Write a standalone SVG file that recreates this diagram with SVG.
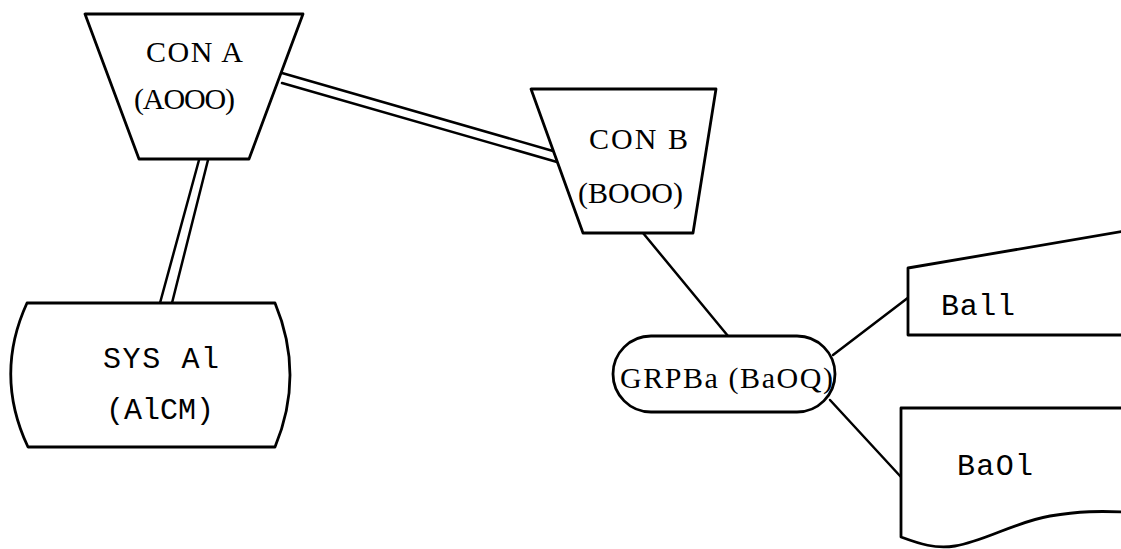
<svg xmlns="http://www.w3.org/2000/svg" width="1121" height="549" viewBox="0 0 1121 549">
<style>
.shape{fill:#fff;stroke:#000;stroke-width:2.8;stroke-linejoin:round}
.edge{fill:none;stroke:#000;stroke-width:2.5;stroke-linecap:round}
.serif{font-family:"Liberation Serif","Times New Roman",serif;font-size:30px;fill:#000}
.mono{font-family:"Liberation Mono","Courier New",monospace;font-size:30px;fill:#000}
</style>
<rect width="1121" height="549" fill="#fff"/>
<g id="connectors">
<line class="edge" x1="282" y1="73" x2="553" y2="151"/>
<line class="edge" x1="282" y1="83" x2="557" y2="162"/>
<line class="edge" x1="199" y1="160" x2="160" y2="303"/>
<line class="edge" x1="208" y1="160" x2="172" y2="303"/>
<line class="edge" x1="643" y1="233" x2="728" y2="336"/>
<line class="edge" x1="833" y1="355" x2="909" y2="297"/>
<line class="edge" x1="830" y1="400" x2="901" y2="477"/>
</g>
<g id="conA">
<polygon class="shape" points="85,14 303,14 249,159 139,159"/>
<text class="serif" x="146" y="62" textLength="97" lengthAdjust="spacing">CON A</text>
<text class="serif" x="134" y="109" textLength="101" lengthAdjust="spacing">(AOOO)</text>
</g>
<g id="conB">
<polygon class="shape" points="531,89 716,89 693,233 583,233"/>
<text class="serif" x="589" y="149" textLength="99" lengthAdjust="spacing">CON B</text>
<text class="serif" x="578" y="203" textLength="105" lengthAdjust="spacing">(BOOO)</text>
</g>
<g id="sysA1">
<path class="shape" d="M27,303 L275,303 Q305,375 275,447 L28,447 Q-6,375 27,303 Z"/>
<text class="mono" x="103" y="368" textLength="116" lengthAdjust="spacing">SYS Al</text>
<text class="mono" x="106" y="419" textLength="108" lengthAdjust="spacing">(AlCM)</text>
</g>
<g id="grpBa">
<rect class="shape" x="613" y="336" width="222" height="76" rx="38" ry="38"/>
<text class="serif" x="620" y="388" textLength="213" lengthAdjust="spacing">GRPBa (BaOQ)</text>
</g>
<g id="ba11">
<path class="shape" d="M1125,231 L908,268 L908,335 L1125,335"/>
<text class="mono" x="941" y="315" textLength="74" lengthAdjust="spacing">Ball</text>
</g>
<g id="ba01">
<path class="shape" d="M1125,408 L901,408 L901,537 C920,544 935,549 955,546 C985,541 1015,522 1050,516 C1080,511 1100,511 1125,512"/>
<text class="mono" x="957" y="475" textLength="76" lengthAdjust="spacing">BaOl</text>
</g>
</svg>
